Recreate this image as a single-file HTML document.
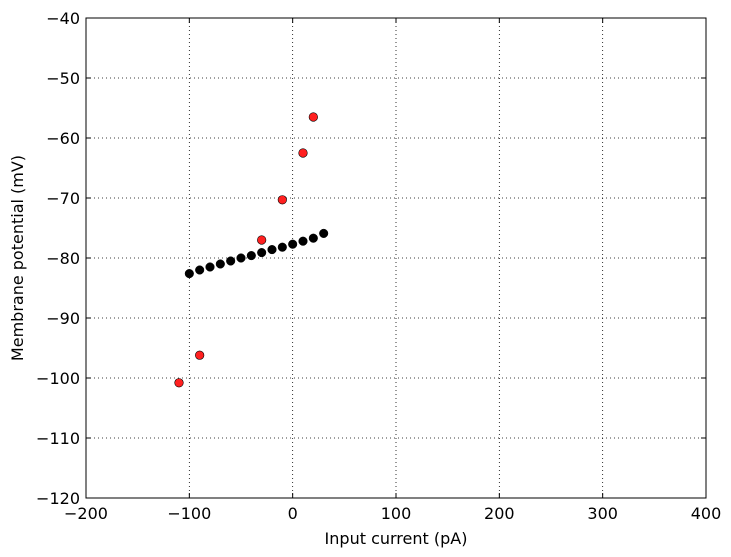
<!DOCTYPE html>
<html><head><meta charset="utf-8"><style>
body{margin:0;background:#fff;}
svg{display:block;font-family:"DejaVu Sans","Liberation Sans",sans-serif;}
</style></head><body>
<svg id="chart" width="731" height="557" viewBox="0 0 731 557"></svg>
<script>
const xTicks=[-200,-100,0,100,200,300,400];
const yTicks=[-40,-50,-60,-70,-80,-90,-100,-110,-120];
const blackX=[-100,-90,-80,-70,-60,-50,-40,-30,-20,-10,0,10,20,30];
const blackY=[-82.6,-82.0,-81.5,-81.0,-80.5,-80.0,-79.6,-79.1,-78.6,-78.2,-77.7,-77.2,-76.7,-75.9];
const redX=[-110,-90,-30,-10,10,20];
const redY=[-100.8,-96.2,-77.0,-70.3,-62.5,-56.5];

const L=86,R=706,T=18,B=498;
const xs=v=>L+(v+200)/600*(R-L);
const ys=v=>T+(-40-v)/80*(B-T);
const svg=document.getElementById('chart');
const NS='http://www.w3.org/2000/svg';
function mk(tag,attrs,parent){const e=document.createElementNS(NS,tag);for(const k in attrs)e.setAttribute(k,attrs[k]);(parent||svg).appendChild(e);return e;}

const grid=mk('g',{});


const xAxis=mk('g',{});


const yAxis=mk('g',{});



xTicks.forEach(t=>{
  const x=xs(t);
  if(t>-200&&t<400){mk('line',{x1:x,x2:x,y1:T,y2:B,stroke:'#000','stroke-width':0.8,'stroke-dasharray':'1,3'},grid);}
  mk('line',{x1:x,x2:x,y1:B,y2:B-5,stroke:'#000'},xAxis);
  mk('line',{x1:x,x2:x,y1:T,y2:T+5,stroke:'#000'},xAxis);
  const tx=mk('text',{x:x,y:B+21,'text-anchor':'middle','font-size':16},xAxis);
  tx.textContent=(t<0?'\u2212'+(-t):t);
  
  
});
yTicks.forEach(t=>{
  const y=ys(t);
  if(t>-120&&t<-40){mk('line',{x1:L,x2:R,y1:y,y2:y,stroke:'#000','stroke-width':0.8,'stroke-dasharray':'1,3'},grid);}
  mk('line',{x1:L,x2:L+5,y1:y,y2:y,stroke:'#000'},yAxis);
  mk('line',{x1:R,x2:R-5,y1:y,y2:y,stroke:'#000'},yAxis);
  const tx=mk('text',{x:L-6,y:y+6,'text-anchor':'end','font-size':16},yAxis);
  tx.textContent='\u2212'+(-t);
  
  
});

const frame=mk('rect',{x:L,y:T,width:R-L,height:B-T,fill:'none',stroke:'#000','stroke-width':1});



const bs=mk('g',{});


blackX.forEach((x,i)=>{
  const c=mk('circle',{cx:xs(x),cy:ys(blackY[i]),r:4.3,fill:'#000',stroke:'#000','stroke-width':0.5},bs);
  
  
});
const rs=mk('g',{});


redX.forEach((x,i)=>{
  const c=mk('circle',{cx:xs(x),cy:ys(redY[i]),r:4.3,fill:'#ff2020',stroke:'#000','stroke-width':0.6},rs);
  
  
});

const xt=mk('text',{x:(L+R)/2,y:544,'text-anchor':'middle','font-size':16});
xt.textContent='Input current (pA)';


const yt=mk('text',{x:0,y:0,'text-anchor':'middle','font-size':16,transform:`translate(23,${(T+B)/2}) rotate(-90)`});
yt.textContent='Membrane potential (mV)';


</script>
</body></html>
